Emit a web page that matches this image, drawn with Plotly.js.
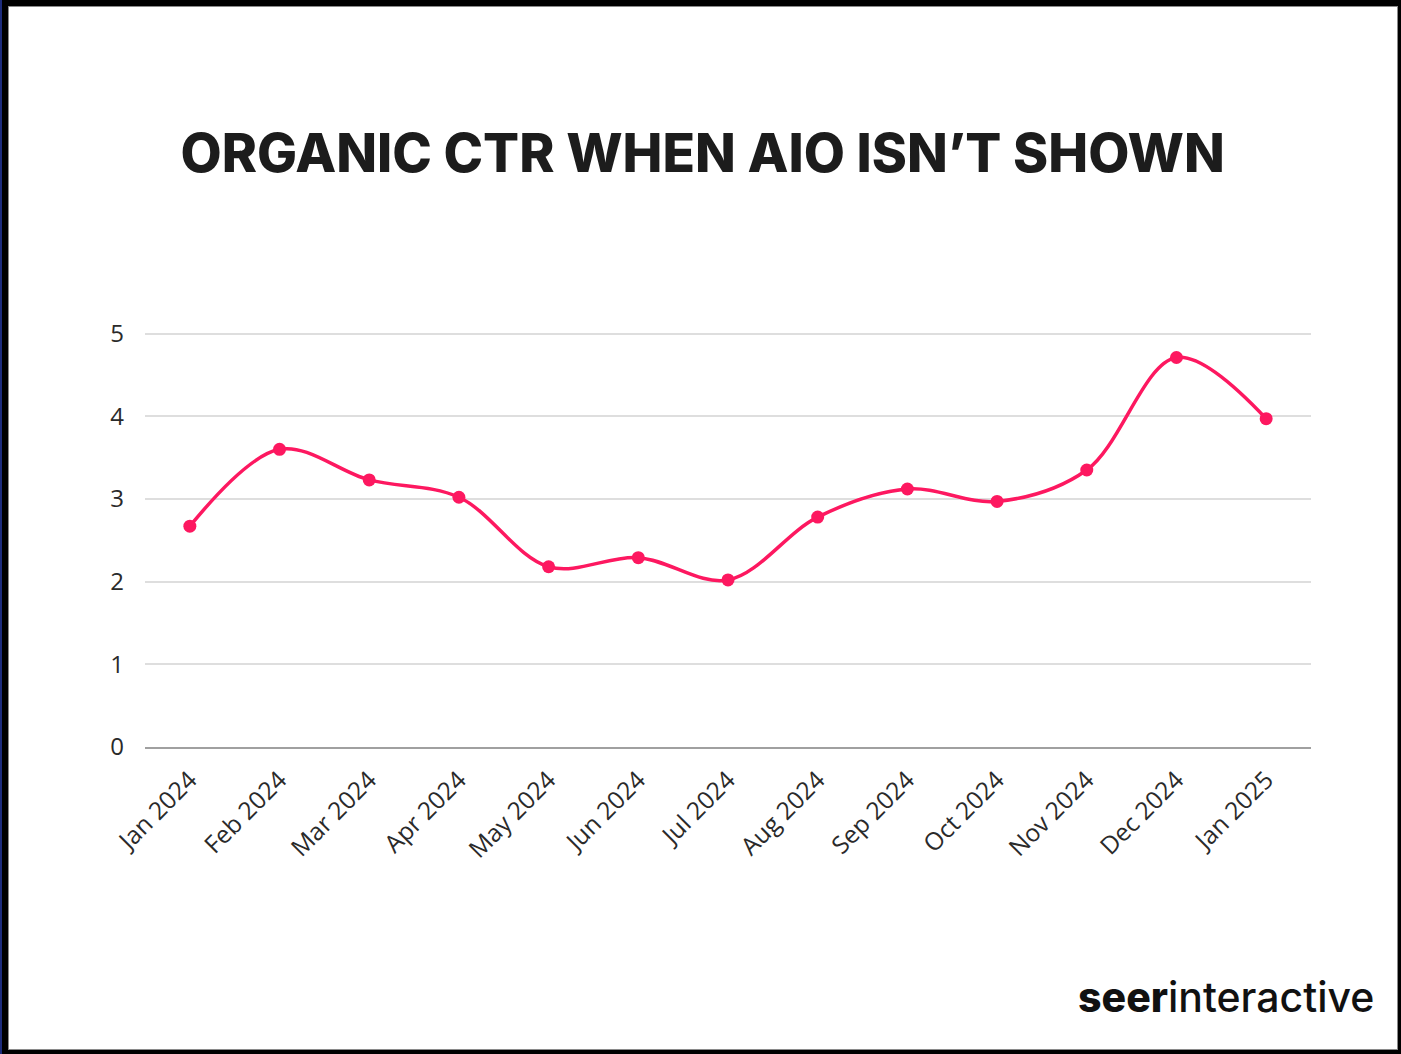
<!DOCTYPE html>
<html>
<head>
<meta charset="utf-8">
<script src="https://cdn.plot.ly/plotly-3.0.1.min.js"></script>
<style>
  html, body { margin: 0; padding: 0; background: #fff; }
  #chart { position: absolute; left: 0; top: 0; width: 1401px; height: 1054px; }
  #frame { position: absolute; left: 0; top: 0; width: 1401px; height: 1054px; box-sizing: border-box;
           border-style: solid; border-color: #000; border-width: 6px 3px 4px 8px;
           box-shadow: inset 0 0 0 1px #8a8a8a; pointer-events: none; }
  #strip { position: absolute; left: 0; top: 0; width: 2px; height: 1054px; background: #1d2c7c; pointer-events: none; }
</style>
</head>
<body>
<div id="chart"></div>
<div id="frame"></div>
<div id="strip"></div>
<script>
const months = ["Jan 2024", "Feb 2024", "Mar 2024", "Apr 2024", "May 2024", "Jun 2024", "Jul 2024",
                "Aug 2024", "Sep 2024", "Oct 2024", "Nov 2024", "Dec 2024", "Jan 2025"];
const ctrValues = [2.67, 3.60, 3.23, 3.02, 2.18, 2.29, 2.02, 2.78, 3.12, 2.97, 3.35, 4.71, 3.97];
const yTicks = [0, 1, 2, 3, 4, 5];
const chartTitle = "ORGANIC CTR WHEN AIO ISN’T SHOWN";
const brandBold = "seer";
const brandRest = "interactive";

const trace = {
  x: months,
  y: ctrValues,
  type: "scatter",
  mode: "lines+markers",
  line: { color: "#fd1860", width: 3.5, shape: "spline", smoothing: 1 },
  marker: { color: "#fd1860", size: 13 },
  hoverinfo: "x+y"
};

const layout = {
  width: 1401,
  height: 1054,
  paper_bgcolor: "#ffffff",
  plot_bgcolor: "#ffffff",
  showlegend: false,
  margin: { l: 145, r: 90, t: 317, b: 307, pad: 0 },
  title: {
    text: chartTitle,
    x: 0.5015, xref: "container", xanchor: "center",
    y: 1 - 153 / 1054, yref: "container", yanchor: "middle",
    font: { family: "Inter, 'Open Sans', sans-serif", size: 53.3, weight: 800, color: "#1c1c1c" }
  },
  xaxis: {
    type: "category",
    range: [-0.5, 12.5],
    showgrid: false,
    zeroline: false,
    showline: true,
    linecolor: "#a0a0a0",
    linewidth: 1.5,
    ticks: "",
    tickangle: -45,
    ticklabelstandoff: 7,
    automargin: false,
    tickfont: { family: "'Open Sans', Lato, sans-serif", size: 24.5, color: "#2a2a2a" }
  },
  yaxis: {
    range: [0, 5.2],
    tickvals: yTicks,
    ticktext: yTicks.map(String),
    showgrid: true,
    gridcolor: "#dedede",
    gridwidth: 1.6,
    zeroline: false,
    showline: false,
    ticks: "",
    ticklabelstandoff: 20,
    automargin: false,
    tickfont: { family: "'Open Sans', Lato, sans-serif", size: 24, color: "#2a2a2a" }
  },
  annotations: [{
    text: "<span style='font-weight:800'>" + brandBold + "</span>" + brandRest,
    xref: "paper", yref: "paper",
    x: (1376 - 145) / 1166, xanchor: "right",
    y: -(997 - 746.7) / 430, yanchor: "middle",
    showarrow: false,
    font: { family: "Inter, 'Liberation Sans', sans-serif", size: 41, weight: 500, color: "#111111" }
  }]
};

Plotly.newPlot("chart", [trace], layout, { displayModeBar: false, staticPlot: false });
</script>
</body>
</html>
